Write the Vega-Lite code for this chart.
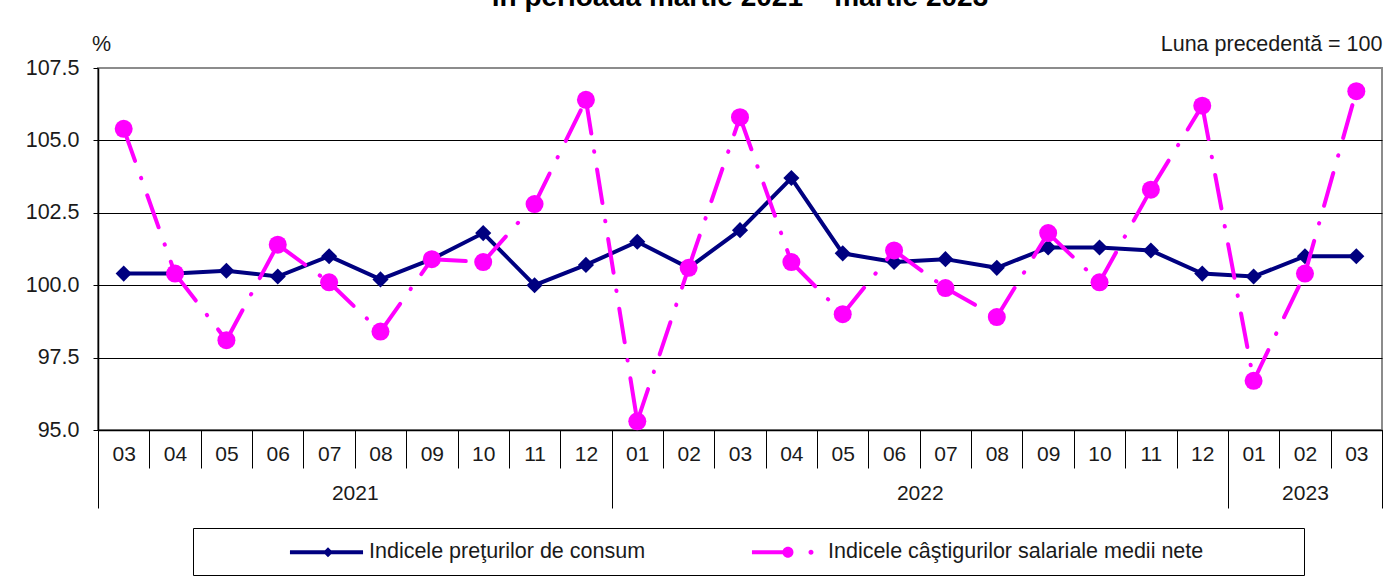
{
  "$schema": "https://vega.github.io/schema/vega-lite/v6.json",
  "width": 1284,
  "height": 362,
  "autosize": {"type": "none"},
  "padding": {"left": 98, "top": 68, "right": 13, "bottom": 151},
  "background": "white",
  "title": {"text": "în perioada martie 2021 – martie 2023", "fontSize": 28, "fontWeight": "bold", "anchor": "middle", "frame": "group", "baseline": "alphabetic", "offset": -1, "color": "black", "font": "Liberation Sans"},
  "config": {
    "font": "Liberation Sans",
    "view": {"stroke": "#8c8c8c", "strokeWidth": 2},
    "legend": {"symbolStrokeWidth": 0, "strokeColor": "black", "fillColor": "white", "strokeWidth": 1}
  },
  "datasets": {
    "d": [
      {"idx": 0, "month": "03", "year": 2021, "cpi": 100.4, "wage": 105.4},
      {"idx": 1, "month": "04", "year": 2021, "cpi": 100.4, "wage": 100.4},
      {"idx": 2, "month": "05", "year": 2021, "cpi": 100.5, "wage": 98.1},
      {"idx": 3, "month": "06", "year": 2021, "cpi": 100.3, "wage": 101.4},
      {"idx": 4, "month": "07", "year": 2021, "cpi": 101.0, "wage": 100.1},
      {"idx": 5, "month": "08", "year": 2021, "cpi": 100.2, "wage": 98.4},
      {"idx": 6, "month": "09", "year": 2021, "cpi": 100.9, "wage": 100.9},
      {"idx": 7, "month": "10", "year": 2021, "cpi": 101.8, "wage": 100.8},
      {"idx": 8, "month": "11", "year": 2021, "cpi": 100.0, "wage": 102.8},
      {"idx": 9, "month": "12", "year": 2021, "cpi": 100.7, "wage": 106.4},
      {"idx": 10, "month": "01", "year": 2022, "cpi": 101.5, "wage": 95.3},
      {"idx": 11, "month": "02", "year": 2022, "cpi": 100.6, "wage": 100.6},
      {"idx": 12, "month": "03", "year": 2022, "cpi": 101.9, "wage": 105.8},
      {"idx": 13, "month": "04", "year": 2022, "cpi": 103.7, "wage": 100.8},
      {"idx": 14, "month": "05", "year": 2022, "cpi": 101.1, "wage": 99.0},
      {"idx": 15, "month": "06", "year": 2022, "cpi": 100.8, "wage": 101.2},
      {"idx": 16, "month": "07", "year": 2022, "cpi": 100.9, "wage": 99.9},
      {"idx": 17, "month": "08", "year": 2022, "cpi": 100.6, "wage": 98.9},
      {"idx": 18, "month": "09", "year": 2022, "cpi": 101.3, "wage": 101.8},
      {"idx": 19, "month": "10", "year": 2022, "cpi": 101.3, "wage": 100.1},
      {"idx": 20, "month": "11", "year": 2022, "cpi": 101.2, "wage": 103.3},
      {"idx": 21, "month": "12", "year": 2022, "cpi": 100.4, "wage": 106.2},
      {"idx": 22, "month": "01", "year": 2023, "cpi": 100.3, "wage": 96.7},
      {"idx": 23, "month": "02", "year": 2023, "cpi": 101.0, "wage": 100.4},
      {"idx": 24, "month": "03", "year": 2023, "cpi": 101.0, "wage": 106.7}
    ]
  },
  "data": {"name": "d"},
  "layer": [
    {
      "mark": {"type": "line", "color": "#000080", "strokeWidth": 4},
      "encoding": {
        "x": {"field": "idx", "type": "quantitative", "scale": {"domain": [-0.5, 24.5], "nice": false, "zero": false},
          "axis": {"orient": "bottom", "values": [-0.5, 0.5, 1.5, 2.5, 3.5, 4.5, 5.5, 6.5, 7.5, 8.5, 9.5, 10.5, 11.5, 12.5, 13.5, 14.5, 15.5, 16.5, 17.5, 18.5, 19.5, 20.5, 21.5, 22.5, 23.5, 24.5],
            "tickSize": 38, "tickColor": "black", "tickWidth": 1, "labels": false, "domain": true, "domainColor": "black", "domainWidth": 1.5, "grid": false, "title": null}},
        "y": {"field": "cpi", "type": "quantitative", "scale": {"domain": [95, 107.5], "nice": false, "zero": false},
          "axis": {"values": [95, 97.5, 100, 102.5, 105, 107.5], "format": ".1f", "grid": true,
            "gridColor": {"condition": {"test": "datum.value == 107.5", "value": "#8c8c8c"}, "value": "black"},
            "gridWidth": 1, "domainColor": "black", "domainWidth": 1.5, "tickColor": "black", "tickSize": 5, "labelPadding": 14,
            "labelFontSize": 21.5, "labelColor": "#1a1a1a", "labelFont": "Liberation Sans",
            "title": "%", "titleAngle": 0, "titleX": 3, "titleY": -24, "titleAlign": "center", "titleBaseline": "middle",
            "titleFontWeight": "normal", "titleFontSize": 21.5, "titleColor": "#1a1a1a", "titleFont": "Liberation Sans"}}
      }
    },
    {
      "mark": {"type": "point", "shape": "diamond", "filled": true, "color": "#000080", "size": 260, "opacity": 1},
      "encoding": {
        "x": {"field": "idx", "type": "quantitative", "scale": {"domain": [-0.5, 24.5], "nice": false, "zero": false},
          "axis": {"orient": "top", "labels": false, "ticks": false, "domain": false, "grid": false,
            "title": "Luna precedentă = 100", "titleAnchor": "end", "titleAlign": "right", "titleBaseline": "middle", "titleY": -24,
            "titleFontWeight": "normal", "titleFontSize": 21.5, "titleColor": "#1a1a1a", "titleFont": "Liberation Sans"}},
        "y": {"field": "cpi", "type": "quantitative", "scale": {"domain": [95, 107.5], "nice": false, "zero": false}, "axis": null}
      }
    },
    {
      "transform": [
        {"window": [{"op": "lead", "field": "idx", "as": "idx2"}, {"op": "lead", "field": "wage", "as": "wage2"}], "sort": [{"field": "idx"}]},
        {"filter": "isValid(datum.idx2)"}
      ],
      "mark": {"type": "rule", "color": "#FF00FF", "strokeWidth": 4, "strokeDash": [34, 18, 0.5, 18], "strokeCap": "round"},
      "encoding": {
        "x": {"field": "idx", "type": "quantitative", "scale": {"domain": [-0.5, 24.5], "nice": false, "zero": false},
          "axis": {"orient": "bottom", "values": [0, 1, 2, 3, 4, 5, 6, 7, 8, 9, 10, 11, 12, 13, 14, 15, 16, 17, 18, 19, 20, 21, 22, 23, 24],
            "ticks": false, "tickSize": 0, "domain": false, "grid": false,
            "labelExpr": "['03','04','05','06','07','08','09','10','11','12','01','02','03','04','05','06','07','08','09','10','11','12','01','02','03'][datum.value]",
            "labelPadding": 24, "labelBaseline": "middle", "labelFontSize": 21, "labelColor": "#1a1a1a", "labelFont": "Liberation Sans",
            "labelFlush": false, "labelOverlap": false, "title": null}},
        "x2": {"field": "idx2"},
        "y": {"field": "wage", "type": "quantitative", "scale": {"domain": [95, 107.5], "nice": false, "zero": false}, "axis": null},
        "y2": {"field": "wage2"}
      }
    },
    {
      "mark": {"type": "point", "shape": "circle", "filled": true, "color": "#FF00FF", "size": 324, "opacity": 1},
      "encoding": {
        "x": {"field": "idx", "type": "quantitative", "scale": {"domain": [-0.5, 24.5], "nice": false, "zero": false},
          "axis": {"orient": "bottom", "values": [-0.5, 9.5, 21.5, 24.5], "tickSize": 78, "tickColor": "black", "tickWidth": 1,
            "labels": false, "domain": false, "grid": false, "title": null}},
        "y": {"field": "wage", "type": "quantitative", "scale": {"domain": [95, 107.5], "nice": false, "zero": false}, "axis": null}
      }
    },
    {
      "transform": [{"filter": "datum.idx < 0"}],
      "mark": {"type": "point", "filled": true, "opacity": 1},
      "encoding": {
        "x": {"field": "idx", "type": "quantitative", "scale": {"domain": [-0.5, 24.5], "nice": false, "zero": false},
          "axis": {"orient": "bottom", "values": [4.5, 15.5, 23], "ticks": false, "tickSize": 0, "domain": false, "grid": false,
            "labelExpr": "datum.value < 10 ? '2021' : (datum.value < 22 ? '2022' : '2023')",
            "labelPadding": 63, "labelBaseline": "middle", "labelFontSize": 21, "labelColor": "#1a1a1a", "labelFont": "Liberation Sans",
            "labelFlush": false, "labelOverlap": false, "title": null}},
        "y": {"field": "wage", "type": "quantitative", "scale": {"domain": [95, 107.5], "nice": false, "zero": false}, "axis": null},
        "color": {"field": "series", "type": "nominal",
          "scale": {"domain": ["Indicele preţurilor de consum", "Indicele câştigurilor salariale medii nete"], "range": ["#000080", "#FF00FF"]},
          "legend": {"orient": "none", "legendX": 95, "legendY": 460, "direction": "horizontal", "title": null,
            "padding": 12, "symbolSize": 576, "labelOffset": 140, "columnPadding": 18,
            "labelFontSize": 21.5, "labelFont": "Liberation Sans", "labelColor": "#1a1a1a", "labelLimit": 800}},
        "shape": {"field": "series", "type": "nominal",
          "scale": {"domain": ["Indicele preţurilor de consum", "Indicele câştigurilor salariale medii nete"],
            "range": ["M6.08,-0.17H12.17V0.17H6.08Z M9.25,-0.42L9.67,0L9.25,0.42L8.83,0Z",
              "M6.33,-0.17H9.33V0.17H6.33Z M9.79,0C9.79,0.254 9.584,0.46 9.33,0.46C9.076,0.46 8.87,0.254 8.87,0C8.87,-0.254 9.076,-0.46 9.33,-0.46C9.584,-0.46 9.79,-0.254 9.79,0Z M11.46,0C11.46,0.116 11.366,0.21 11.25,0.21C11.134,0.21 11.04,0.116 11.04,0C11.04,-0.116 11.134,-0.21 11.25,-0.21C11.366,-0.21 11.46,-0.116 11.46,0Z M51.3,0Z"]},
          "legend": {"orient": "none", "legendX": 95, "legendY": 460, "direction": "horizontal", "title": null,
            "padding": 12, "symbolSize": 576, "labelOffset": 140, "columnPadding": 18,
            "labelFontSize": 21.5, "labelFont": "Liberation Sans", "labelColor": "#1a1a1a", "labelLimit": 800}}
      }
    }
  ],
  "resolve": {"axis": {"x": "independent", "y": "independent"}}
}
